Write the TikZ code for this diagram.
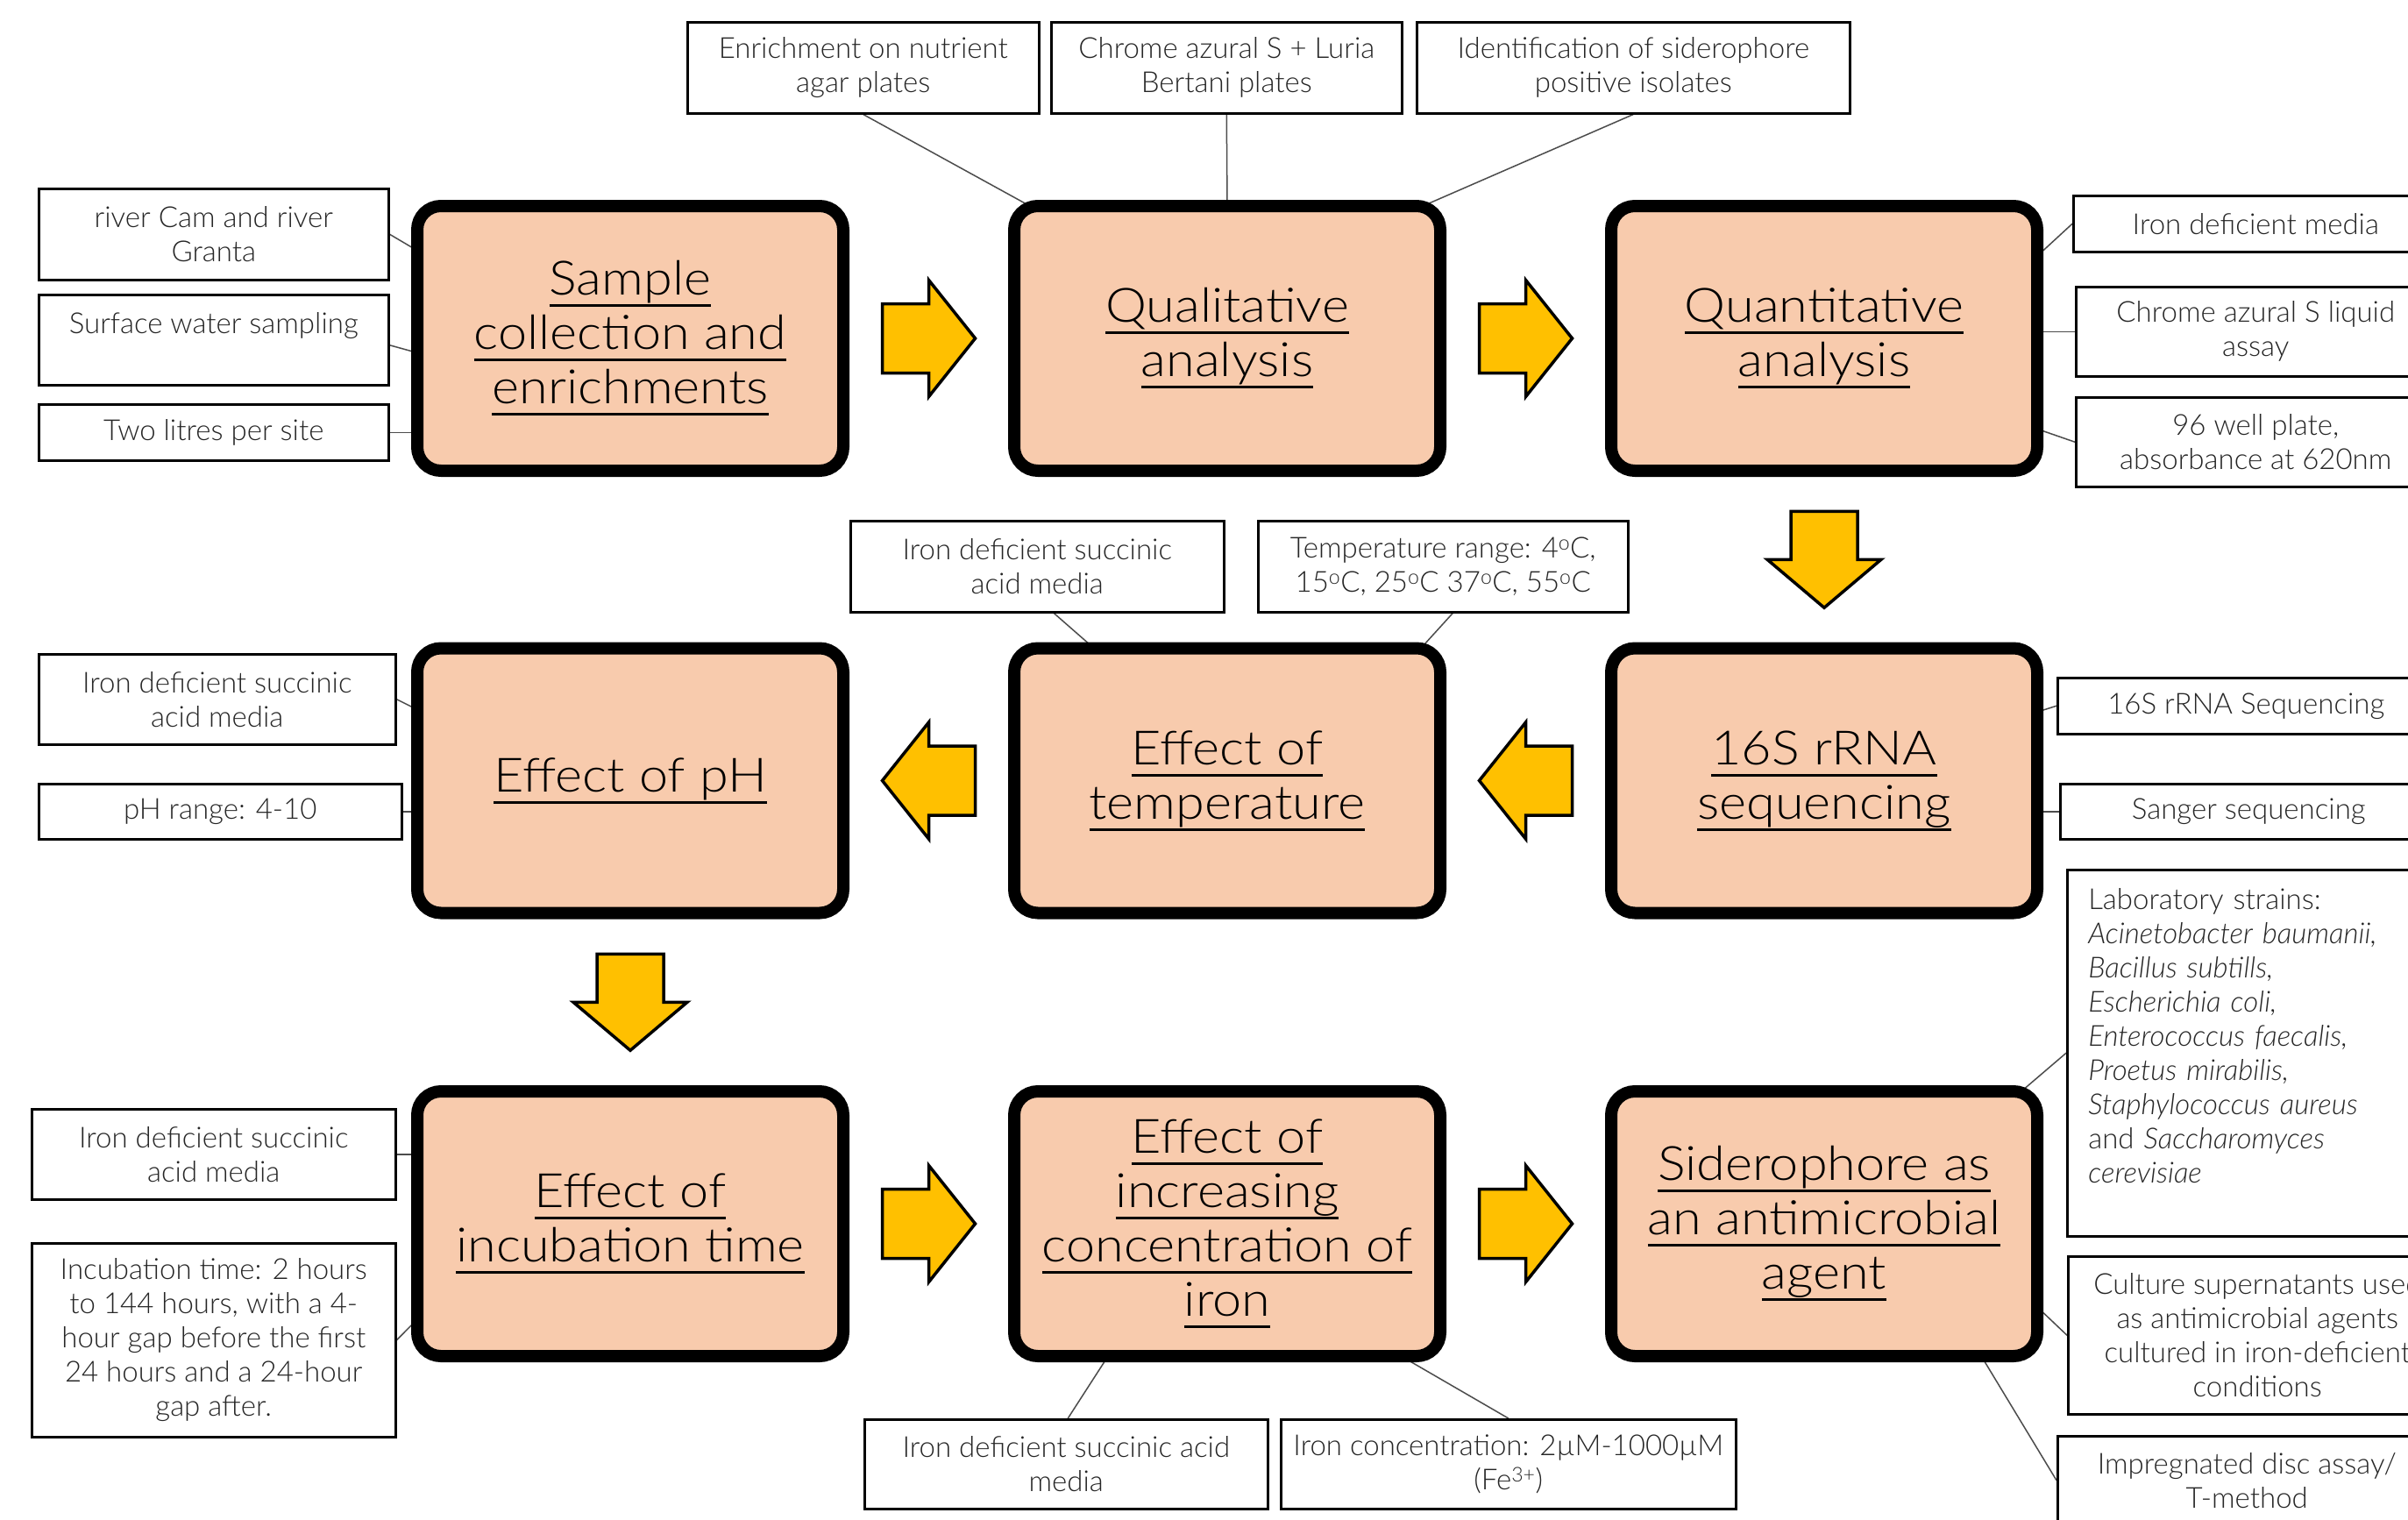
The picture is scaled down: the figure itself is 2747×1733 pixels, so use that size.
\documentclass[tikz,border=0pt]{standalone}
\usepackage{fontspec}
\IfFontExistsTF{Lato Light}{%
  \setmainfont{Lato Light}%
  \newfontfamily\bigfont{Lato Light}[FakeStretch=1.1]%
}{%
  \setmainfont{Lato}%
  \newfontfamily\bigfont{Lato}[FakeStretch=1.1]%
}
\usetikzlibrary{calc}
\definecolor{peach}{HTML}{F8CBAD}
\definecolor{gold}{HTML}{FFC000}
\definecolor{txt}{HTML}{262626}
\newcommand\ulin[1]{\leavevmode\setbox0=\hbox{#1}\rlap{\rule[-13.5pt]{\wd0}{3pt}}\box0}
\newcommand\degC{\textsuperscript{o}C}
\pgfdeclarelayer{back}\pgfdeclarelayer{bg}\pgfsetlayers{back,bg,main}
\tikzset{
 mainbox/.style={draw=black, line width=14pt, fill=peach, rounded corners=27pt, minimum width=486pt, minimum height=302pt, align=center, font=\bigfont\fontsize{54}{62}\selectfont, inner sep=0pt},
 sb/.style n args={2}{draw=black, line width=2.5pt, fill=white, anchor=north west, minimum width=#1pt, minimum height=#2pt, align=center, inner sep=0pt, font=\fontsize{33}{39}\selectfont, text=txt},
 conn/.style={line width=1.5pt, draw=black!70},
 barrow/.style={fill=gold, draw=black, line width=3.5pt, line join=miter},
}
\newcommand\arrR[1]{\draw[barrow, shift={#1}] (-53,-39.5) -- (0,-39.5) -- (0,-66.5) -- (53,0) -- (0,66.5) -- (0,39.5) -- (-53,39.5) -- cycle;}
\newcommand\arrL[1]{\draw[barrow, shift={#1}] (53,-39.5) -- (0,-39.5) -- (0,-66.5) -- (-53,0) -- (0,66.5) -- (0,39.5) -- (53,39.5) -- cycle;}
\newcommand\arrD[1]{\draw[barrow, shift={#1}] (-38,-55) -- (38,-55) -- (38,0) -- (65,0) -- (0,55) -- (-65,0) -- (-38,0) -- cycle;}
\begin{document}
\begin{tikzpicture}[x=1pt,y=-1pt]
\useasboundingbox (0,0) rectangle (2747,1733);
\begin{pgfonlayer}{back}
\fill[white] (0,0) rectangle (2747,1733);
\end{pgfonlayer}
\clip (0,0) rectangle (2747,1733);
% main boxes
\node[mainbox] (sample) at (719,386) {\ulin{Sample}\\\ulin{collection and}\\\ulin{enrichments}};
\node[mainbox] (qual) at (1400,386) {\ulin{Qualitative}\\\ulin{analysis}};
\node[mainbox] (quant) at (2081,386) {\ulin{Quantitative}\\\ulin{analysis}};
\node[mainbox] (ph) at (719,890.5) {\ulin{Effect of pH}};
\node[mainbox] (temp) at (1400,890.5) {\ulin{Effect of}\\\ulin{temperature}};
\node[mainbox] (rrna) at (2081,890.5) {\ulin{16S rRNA}\\\ulin{sequencing}};
\node[mainbox] (inc) at (719,1396) {\ulin{Effect of}\\\ulin{incubation time}};
\node[mainbox] (conc) at (1400,1396) {\ulin{Effect of}\\\ulin{increasing}\\\ulin{concentration of}\\\ulin{iron}};
\node[mainbox] (sid) at (2081,1396) {\ulin{Siderophore as}\\\ulin{an antimicrobial}\\\ulin{agent}};
% small boxes row 1
\node[sb={401}{104}] (enrich) at (783,24) {Enrichment on nutrient\\agar plates};
\node[sb={400}{104}] (chrome) at (1198,24) {Chrome azural S + Luria\\Bertani plates};
\node[sb={494}{104}] (ident) at (1615,24) {Identification of siderophore\\positive isolates};
\node[sb={399}{104}] (river) at (43,214) {river Cam and river\\Granta};
\node[sb={399}{103}] (surface) at (43,335) {Surface water sampling\\\mbox{}};
\node[sb={399}{64}] (two) at (43,460) {Two litres per site};
\node[sb={416}{64}] (irondef) at (2364,222) {Iron deficient media};
\node[sb={410}{102}] (casliq) at (2367,326) {Chrome azural S liquid\\assay};
\node[sb={410}{102}] (well) at (2367,452) {96 well plate,\\absorbance at 620nm};
% row 2
\node[sb={426}{104}] (tiron) at (969,593) {Iron deficient succinic\\acid media};
\node[sb={422}{104}] (trange) at (1434,593) {Temperature range: 4\degC,\\15\degC, 25\degC{} 37\degC, 55\degC};
\node[sb={407}{103}] (phiron) at (43,745) {Iron deficient succinic\\acid media};
\node[sb={414}{63}] (phrange) at (43,893) {pH range: 4-10};
\node[sb={430}{64}] (s16) at (2346,772) {16S rRNA Sequencing};
\node[sb={430}{63}] (sanger) at (2349,893) {Sanger sequencing};
\node[sb={443}{418}, align=left, text width=395pt] (lab) at (2357,991) {Laboratory strains:\\\textit{Acinetobacter baumanii,}\\\textit{Bacillus subtills,}\\\textit{Escherichia coli,}\\\textit{Enterococcus faecalis,}\\\textit{Proetus mirabilis,}\\\textit{Staphylococcus aureus}\\and \textit{Saccharomyces}\\\textit{cerevisiae}\\\mbox{}};
% row 3
\node[sb={415}{103}] (iron3) at (35,1264) {Iron deficient succinic\\acid media};
\node[sb={415}{221}] (incbox) at (35,1417) {Incubation time: 2 hours\\to 144 hours, with a 4-\\hour gap before the first\\24 hours and a 24-hour\\gap after.};
\node[sb={460}{102}] (biron) at (985,1618) {Iron deficient succinic acid\\media};
\node[sb={519}{102}] (feconc) at (1460,1618) {Iron concentration: 2µM-1000µM\\(Fe\textsuperscript{3+})};
\node[sb={432}{180}] (culture) at (2358,1432) {Culture supernatants used\\as antimicrobial agents\\cultured in iron-deficient\\conditions};
\node[sb={432}{101}] (impreg) at (2346,1637) {Impregnated disc assay/\\T-method};
% connectors
\begin{pgfonlayer}{bg}
\draw[conn] (enrich.south) -- ($(qual.north west)+(34,12)$);
\draw[conn] (chrome.south) -- ($(qual.north)+(0,10)$);
\draw[conn] (ident.south) -- ($(qual.north east)+(-36,11)$);
\draw[conn] (river.east) -- ($(sample.north west)+(9,59)$);
\draw[conn] ($(surface.east)+(0,6)$) -- ($(sample.north west)+(9,175)$);
\draw[conn] (two.east) -- ($(two.east -| sample.west)+(9,0)$);
\draw[conn] (irondef.west) -- ($(quant.north east)+(-8,65)$);
\draw[conn] (casliq.west) -- ($(casliq.west -| quant.east)+(-8,0)$);
\draw[conn] (well.west) -- ($(quant.north east)+(-8,261)$);
\draw[conn] ($(tiron.south)+(19,0)$) -- ($(temp.north west)+(98,7)$);
\draw[conn] ($(trange.south)+(11,0)$) -- ($(temp.north east)+(-30,8)$);
\draw[conn] (phiron.east) -- ($(ph.north west)+(9,78)$);
\draw[conn] (phrange.east) -- ($(phrange.east -| ph.west)+(9,0)$);
\draw[conn] (s16.west) -- ($(rrna.north east)+(-8,80)$);
\draw[conn] (sanger.west) -- ($(sanger.west -| rrna.east)+(-8,0)$);
\draw[conn] (lab.west) -- ($(sid.north east)+(-31,12)$);
\draw[conn] (culture.west) -- ($(sid.north east)+(-8,252)$);
\draw[conn] (impreg.west) -- ($(sid.south east)+(-72,-9)$);
\draw[conn] (iron3.east) -- ($(iron3.east -| inc.west)+(9,0)$);
\draw[conn] (incbox.east) -- ($(inc.north west)+(9,265)$);
\draw[conn] ($(biron.north)+(2,0)$) -- ($(conc.south west)+(116,-10)$);
\draw[conn] (feconc.north) -- ($(conc.south east)+(-50,-6)$);
\end{pgfonlayer}
% block arrows
\arrR{($(sample.east)!0.5!(qual.west)$)}
\arrR{($(qual.east)!0.5!(quant.west)$)}
\arrD{($(quant.south)!0.5!(rrna.north)$)}
\arrL{($(rrna.west)!0.5!(temp.east)$)}
\arrL{($(temp.west)!0.5!(ph.east)$)}
\arrD{($(ph.south)!0.5!(inc.north)$)}
\arrR{($(inc.east)!0.5!(conc.west)$)}
\arrR{($(conc.east)!0.5!(sid.west)$)}
\end{tikzpicture}
\end{document}
